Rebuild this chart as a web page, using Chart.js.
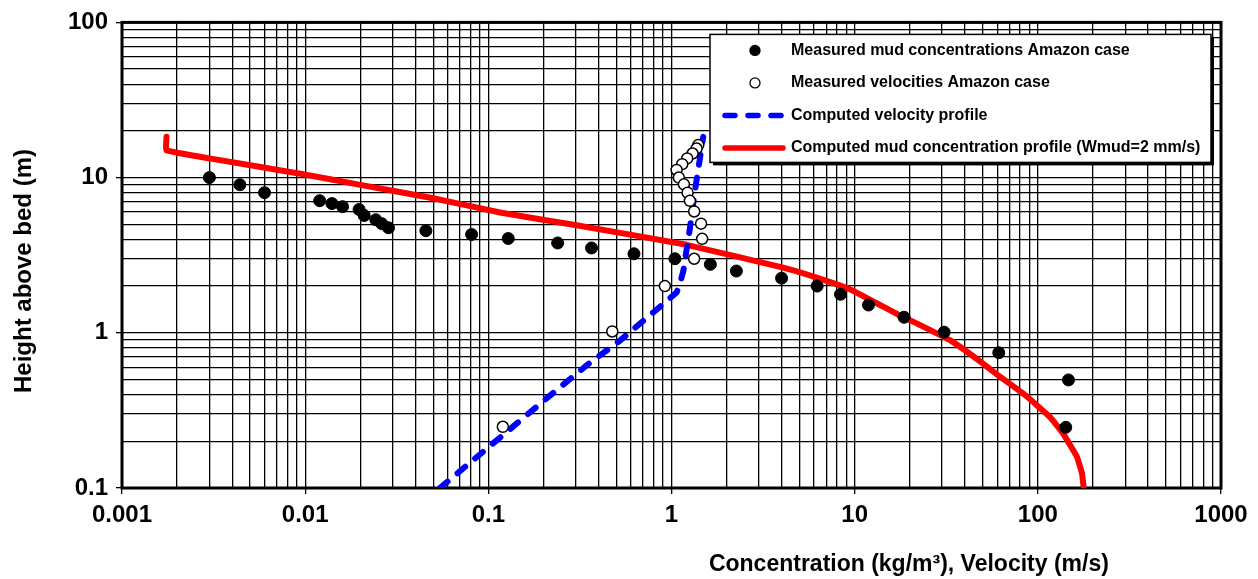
<!DOCTYPE html>
<html>
<head>
<meta charset="utf-8">
<script src="https://cdn.jsdelivr.net/npm/chart.js@4.4.1/dist/chart.umd.min.js"></script>
<style>
  html, body { margin: 0; padding: 0; background: #fff; }
</style>
</head>
<body>
<canvas id="profileChart" width="1258" height="579"></canvas>
<script>
// measured mud concentrations Amazon case (kg/m3 vs height m)
const mudConc   = [0.003, 0.0044, 0.006, 0.012, 0.014, 0.016, 0.0197, 0.021, 0.0243, 0.0262, 0.0285,
                   0.0456, 0.081, 0.1285, 0.239, 0.366, 0.624, 1.044, 1.63, 2.26, 3.99, 6.24, 8.37,
                   11.9, 18.6, 30.8, 61.2, 147, 142];
const mudHeight = [10, 9, 8, 7.1, 6.8, 6.5, 6.23, 5.7, 5.35, 5.05, 4.75,
                   4.55, 4.3, 4.05, 3.79, 3.52, 3.23, 3.0, 2.76, 2.5, 2.25, 2.0, 1.77,
                   1.51, 1.26, 1.01, 0.744, 0.497, 0.246];

// measured velocities Amazon case (m/s vs height m)
const velMeas   = [1.40, 1.371, 1.303, 1.218, 1.144, 1.066, 1.097, 1.169, 1.224, 1.26, 1.33, 1.45, 1.47,
                   1.33, 0.92, 0.475, 0.12];
const velHeight = [16.2, 15.4, 14.3, 13.3, 12.2, 11.2, 10.0, 9.05, 8.0, 7.08, 6.05, 5.05, 4.03,
                   3.0, 2.0, 1.02, 0.248];

// computed velocity profile
const velProfX = [0.0544, 0.1206, 0.208, 0.344, 0.523, 0.795, 1.066, 1.11, 1.16, 1.26, 1.34, 1.43, 1.49];
const velProfY = [0.1, 0.22, 0.378, 0.617, 0.891, 1.353, 1.82, 2.05, 2.5, 4.7, 8.1, 13.3, 18.3];

// computed mud concentration profile (Wmud=2 mm/s)
const mudProfX = [0.00175, 0.00175, 0.003, 0.0094, 0.02, 0.05, 0.116, 0.303, 1.21, 4.07, 6.19, 9.42,
                  17.7, 21.8, 33.5, 46.3, 61, 86.8, 116, 137, 163, 174, 178];
const mudProfY = [18.3, 15.0, 13.3, 10.6, 8.97, 7.36, 5.96, 4.93, 3.69, 2.63, 2.27, 1.91,
                  1.29, 1.15, 0.89, 0.68, 0.53, 0.39, 0.288, 0.2255, 0.16, 0.125, 0.1];

const xTickLabels = ['0.001', '0.01', '0.1', '1', '10', '100', '1000'];
const yTickLabels = ['0.1', '1', '10', '100'];

const FONT = "'Liberation Sans', Arial, sans-serif";

function pts(xs, ys) {
  return xs.map((x, i) => ({x: x, y: ys[i]}));
}

// 1..9 per decade, like excel log gridlines
function logTicks(labels) {
  const majors = labels.map(Number);
  const out = [];
  for (let i = 0; i < majors.length - 1; i++) {
    for (let k = 1; k < 10; k++) out.push({value: majors[i] * k});
  }
  out.push({value: majors[majors.length - 1]});
  return out;
}

function majorLabel(labels, v) {
  const hit = labels.find(l => Math.abs(Number(l) - v) < Number(l) * 1e-6);
  return hit === undefined ? '' : hit;
}

const frame = {
  id: 'frame',
  beforeDatasetsDraw(chart) {
    const a = chart.chartArea;
    const c = chart.ctx;
    c.save();
    c.strokeStyle = '#000';
    c.lineWidth = 3;
    c.strokeRect(a.left, a.top, a.right - a.left, a.bottom - a.top);
    c.restore();
  }
};

// axis titles (x title sits right of centre, as in the original)
const axisTitles = {
  id: 'axisTitles',
  afterDraw(chart) {
    const a = chart.chartArea;
    const c = chart.ctx;
    c.save();
    c.fillStyle = '#000';
    c.textAlign = 'center';
    c.textBaseline = 'middle';
    c.font = 'bold 23px ' + FONT;
    c.fillText('Concentration (kg/m\u00B3), Velocity (m/s)', a.left + 0.716 * (a.right - a.left), 565);
    c.translate(24, 271);
    c.rotate(-Math.PI / 2);
    c.font = 'bold 24px ' + FONT;
    c.fillText('Height above bed (m)', 0, 0);
    c.restore();
  }
};

// legend box drawn inside the plot, with shadow
const boxLegend = {
  id: 'boxLegend',
  afterDatasetsDraw(chart) {
    const a = chart.chartArea;
    const c = chart.ctx;
    const x0 = a.left + 588, y0 = a.top + 12, w = 501, h = 128;
    c.save();
    c.fillStyle = '#000';
    c.fillRect(x0 + 3, y0 + 3, w, h);
    c.fillStyle = '#fff';
    c.fillRect(x0, y0, w, h);
    c.strokeStyle = '#000';
    c.lineWidth = 1.5;
    c.strokeRect(x0, y0, w, h);

    chart.data.datasets.forEach((ds, i) => {
      const cy = y0 + 16 + i * 32.5;
      if (ds.showLine) {
        c.beginPath();
        c.setLineDash(ds.borderDash || []);
        c.lineCap = 'round';
        c.strokeStyle = ds.borderColor;
        c.lineWidth = 5.5;
        c.moveTo(x0 + 15, cy);
        c.lineTo(x0 + 73, cy);
        c.stroke();
        c.setLineDash([]);
      } else {
        c.beginPath();
        c.arc(x0 + 45, cy, 5, 0, Math.PI * 2);
        c.fillStyle = ds.backgroundColor;
        c.fill();
        c.lineWidth = 1.3;
        c.strokeStyle = '#000';
        c.stroke();
      }
      c.fillStyle = '#000';
      c.font = 'bold 16px ' + FONT;
      c.textAlign = 'left';
      c.textBaseline = 'middle';
      c.fillText(ds.label, x0 + 81, cy);
    });
    c.restore();
  }
};

const tickFont = {family: FONT, size: 24, weight: 'bold'};

const chart = new Chart(document.getElementById('profileChart').getContext('2d'), {
  type: 'scatter',
  data: {
    datasets: [
      {
        label: 'Measured mud concentrations Amazon case',
        data: pts(mudConc, mudHeight),
        backgroundColor: '#000',
        borderColor: '#000',
        pointRadius: 6,
        pointBorderWidth: 1
      },
      {
        label: 'Measured velocities Amazon case',
        data: pts(velMeas, velHeight),
        backgroundColor: '#fff',
        borderColor: '#000',
        pointRadius: 5.5,
        pointBorderWidth: 1.5
      },
      {
        label: 'Computed velocity profile',
        data: pts(velProfX, velProfY),
        showLine: true,
        borderColor: '#0000FF',
        borderWidth: 6,
        borderDash: [10, 13],
        borderCapStyle: 'round',
        pointRadius: 0,
        tension: 0
      },
      {
        label: 'Computed mud concentration profile (Wmud=2 mm/s)',
        data: pts(mudProfX, mudProfY),
        showLine: true,
        borderColor: '#FF0000',
        borderWidth: 6,
        borderCapStyle: 'round',
        borderJoinStyle: 'round',
        pointRadius: 0,
        tension: 0.1
      }
    ]
  },
  options: {
    responsive: false,
    animation: false,
    devicePixelRatio: 1,
    layout: {padding: {top: 19, right: 37, left: 0, bottom: 0}},
    plugins: {
      legend: {display: false},
      tooltip: {enabled: false}
    },
    scales: {
      x: {
        type: 'logarithmic',
        min: 0.001,
        max: 1000,
        afterBuildTicks: s => { s.ticks = logTicks(xTickLabels); },
        afterFit: s => { s.height = 91; },
        border: {display: false},
        grid: {
          color: '#000',
          lineWidth: 1.3,
          tickLength: 6,
          tickColor: c => majorLabel(xTickLabels, c.tick.value) ? '#000' : 'rgba(0,0,0,0)'
        },
        ticks: {
          autoSkip: false,
          maxRotation: 0,
          padding: 7,
          color: '#000',
          font: tickFont,
          callback: v => majorLabel(xTickLabels, v)
        }
      },
      y: {
        type: 'logarithmic',
        min: 0.1,
        max: 100,
        afterBuildTicks: s => { s.ticks = logTicks(yTickLabels); },
        afterFit: s => { s.width = 122; },
        border: {display: false},
        grid: {
          color: '#000',
          lineWidth: 1.3,
          tickLength: 6,
          tickColor: c => majorLabel(yTickLabels, c.tick.value) ? '#000' : 'rgba(0,0,0,0)'
        },
        ticks: {
          autoSkip: false,
          padding: 8,
          color: '#000',
          font: tickFont,
          callback: v => majorLabel(yTickLabels, v)
        }
      }
    }
  },
  plugins: [frame, boxLegend, axisTitles]
});
</script>
</body>
</html>
